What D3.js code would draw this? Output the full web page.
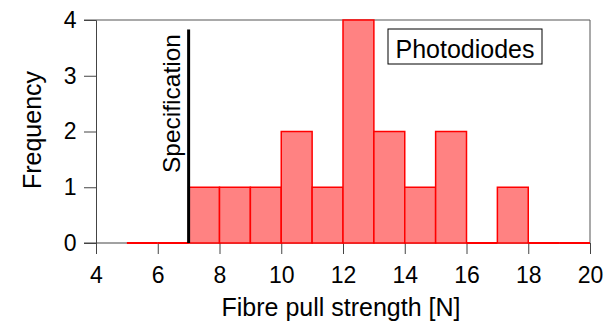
<!DOCTYPE html>
<html>
<head>
<meta charset="utf-8">
<script src="https://cdn.jsdelivr.net/npm/d3@7"></script>
<style>
  body { margin: 0; background: #fff; }
  text { font-family: "Liberation Sans", Arial, sans-serif; fill: #000; }
</style>
</head>
<body>
<div id="chart"></div>
<script>
// histogram bins (left edges) and counts
var binStarts = [5, 6, 7, 8, 9, 10, 11, 12, 13, 14, 15, 16, 17, 18, 19];
var counts    = [0, 0, 1, 1, 1, 2, 1, 4, 2, 1, 2, 0, 1, 0, 0];
var binWidth = 1;
var xTicks = [4, 6, 8, 10, 12, 14, 16, 18, 20];
var yTicks = [0, 1, 2, 3, 4];
var specValue = 7;
var specTop = 3.83;
var legendLabel = "Photodiodes";

var W = 606, H = 324;
var margin = {left: 96, right: 16, top: 20, bottom: 81};

var svg = d3.select("#chart").append("svg")
    .attr("width", W)
    .attr("height", H);

var x = d3.scaleLinear().domain([4, 20]).range([margin.left, W - margin.right]);
var y = d3.scaleLinear().domain([0, 4]).range([H - margin.bottom, margin.top]);

var bins = binStarts.map(function(d, i) { return {x0: d, x1: d + binWidth, n: counts[i]} });

// frame (top and right)
svg.append("line")
    .attr("x1", x(4) - 12).attr("x2", x(20))
    .attr("y1", y(4)).attr("y2", y(4))
    .attr("stroke", "#555").attr("stroke-width", 1);
svg.append("line")
    .attr("x1", x(20)).attr("x2", x(20))
    .attr("y1", y(4)).attr("y2", y(0))
    .attr("stroke", "#555").attr("stroke-width", 1);

// axes
var xAxis = svg.append("g")
    .attr("transform", "translate(0," + y(0) + ")")
    .call(d3.axisBottom(x).tickValues(xTicks).tickSize(11).tickPadding(13));
var yAxis = svg.append("g")
    .attr("transform", "translate(" + x(4) + ",0)")
    .call(d3.axisLeft(y).tickValues(yTicks).tickFormat(d3.format("d")).tickSize(12).tickPadding(7.5));

[xAxis, yAxis].forEach(function(g) {
    g.select(".domain").attr("stroke", "#444").attr("stroke-width", 1);
    g.selectAll(".tick line").attr("stroke", "#444");
    g.selectAll(".tick text")
        .style("font-family", "'Liberation Sans', Arial, sans-serif")
        .style("font-size", "23px")
        .attr("fill", "#000");
});
xAxis.select(".domain").attr("d", "M" + (x(4) - 12) + ",0H" + x(20));

// bars
svg.selectAll(".bar")
    .data(bins.filter(function(b) { return b.n > 0 }))
    .enter()
    .append("rect")
    .attr("class", "bar")
    .attr("x", function(d) { return x(d.x0) })
    .attr("width", function(d) { return x(d.x1) - x(d.x0) })
    .attr("y", function(d) { return y(d.n) })
    .attr("height", function(d) { return y(0) - y(d.n) })
    .attr("fill", "#ff8282")
    .attr("stroke", "#ff0000")
    .attr("stroke-width", 1.5);
// empty bins show as a flat red line
svg.selectAll(".empty")
    .data(bins.filter(function(b) { return b.n == 0 }))
    .enter()
    .append("line")
    .attr("class", "empty")
    .attr("x1", function(d) { return x(d.x0) })
    .attr("x2", function(d) { return x(d.x1) })
    .attr("y1", y(0)).attr("y2", y(0))
    .attr("stroke", "#ff0000")
    .attr("stroke-width", 2);

// specification line
svg.append("line")
    .attr("x1", x(specValue)).attr("x2", x(specValue))
    .attr("y1", y(0)).attr("y2", y(specTop))
    .attr("stroke", "#000").attr("stroke-width", 3);
svg.append("text")
    .attr("transform", "translate(" + (x(specValue) - 9) + "," + 173 + ") rotate(-90)")
    .attr("text-anchor", "start")
    .style("font-size", "24.5px")
    .text("Specification");

// legend box
var lg = svg.append("g").attr("transform", "translate(388,29)");
lg.append("rect")
    .attr("width", 154).attr("height", 35)
    .attr("fill", "#fff").attr("stroke", "#000").attr("stroke-width", 1);
lg.append("text")
    .attr("x", 77).attr("y", 28.5)
    .attr("text-anchor", "middle")
    .style("font-size", "25px")
    .text(legendLabel);

// axis titles
svg.append("text")
    .attr("x", 341)
    .attr("y", 316)
    .attr("text-anchor", "middle")
    .style("font-size", "25px")
    .text("Fibre pull strength [N]");
svg.append("text")
    .attr("transform", "translate(41,130) rotate(-90)")
    .attr("text-anchor", "middle")
    .style("font-size", "25px")
    .text("Frequency");
</script>
</body>
</html>
